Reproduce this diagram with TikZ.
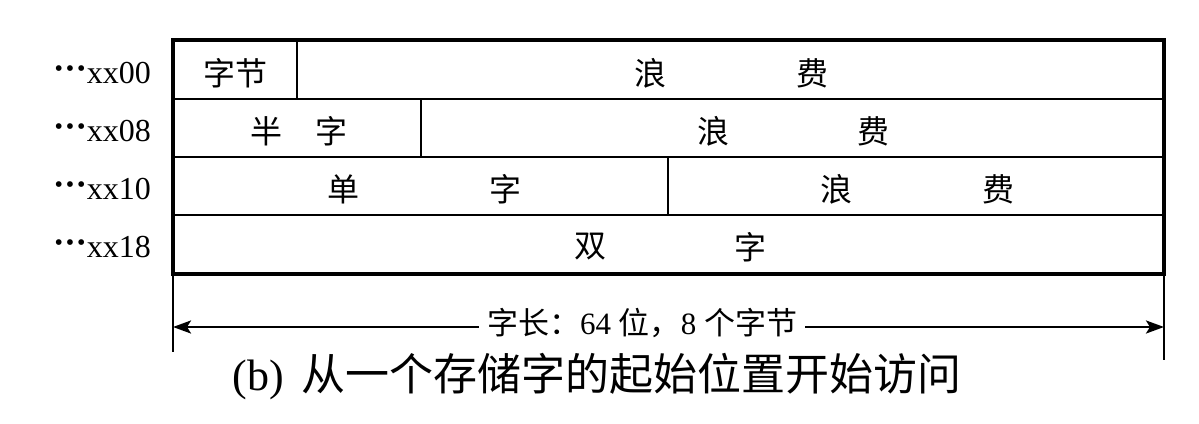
\documentclass[tikz,border=0pt]{standalone}
\usepackage{fontspec}
\setmainfont{Liberation Serif}
\newfontfamily\cjk{Noto Sans CJK SC}
\usetikzlibrary{arrows.meta}
\newcommand{\mdots}{\raisebox{0.22em}{\fontsize{24}{24}\selectfont •\kern0.12em•\kern0.12em•}\kern0.04em}
\begin{document}
\begin{tikzpicture}[x=1pt,y=-1pt,
  outer/.style={line width=4pt},
  inner/.style={line width=2.6pt},
  cell/.style={font=\fontsize{32}{34}\selectfont\cjk, inner sep=0pt},
  addr/.style={font=\fontsize{32}{34}\selectfont, anchor=east, inner sep=0pt},
  dim/.style={line width=2.6pt, -{Stealth[length=18pt,width=13pt,inset=4pt]}}]
\useasboundingbox (0,0) rectangle (1199,423);
% grid
\draw[inner] (173,99) -- (1164,99) (173,157) -- (1164,157) (173,215) -- (1164,215);
\draw[inner] (297,40) -- (297,99) (421,99) -- (421,157) (668,157) -- (668,215);
\draw[outer] (173,40) rectangle (1164,274);
% cell texts
\node[cell] (b1) at (235,73) {字节};
\node[cell] (w1a) at (650,73) {浪};
\node[cell] (w1b) at (812,73) {费};
\node[cell] (h1) at (266,131) {半};
\node[cell] (h2) at (331,131) {字};
\node[cell] (w2a) at (713,131) {浪};
\node[cell] (w2b) at (873,131) {费};
\node[cell] (s1) at (343,189) {单};
\node[cell] (s2) at (505,189) {字};
\node[cell] (w3a) at (836,189) {浪};
\node[cell] (w3b) at (998,189) {费};
\node[cell] (d1) at (590,247) {双};
\node[cell] (d2) at (750,247) {字};
% address labels
\node[addr] (a0) at (151,73) {\mdots xx00};
\node[addr] (a1) at (151,131) {\mdots xx08};
\node[addr] (a2) at (151,189) {\mdots xx10};
\node[addr] (a3) at (151,247) {\mdots xx18};
% extension lines
\draw[inner] (173,274) -- (173,352);
\draw[inner] (1164,274) -- (1164,360);
\coordinate (L) at (173,327);
\coordinate (R) at (1164,327);
\node[font=\fontsize{31}{32}\selectfont, inner sep=8pt] (lab) at (642,323)
  {{\cjk 字长：}64 {\cjk 位，}8 {\cjk 个字节}};
\draw[dim] (lab.west |- L) -- (L);
\draw[dim] (lab.east |- R) -- (R);
% caption
\node[font=\fontsize{44}{46}\selectfont, inner sep=0pt] (cap) at (597,377)
  {(b)\hspace{0.4em}{\cjk 从一个存储字的起始位置开始访问}};
\end{tikzpicture}
\end{document}
